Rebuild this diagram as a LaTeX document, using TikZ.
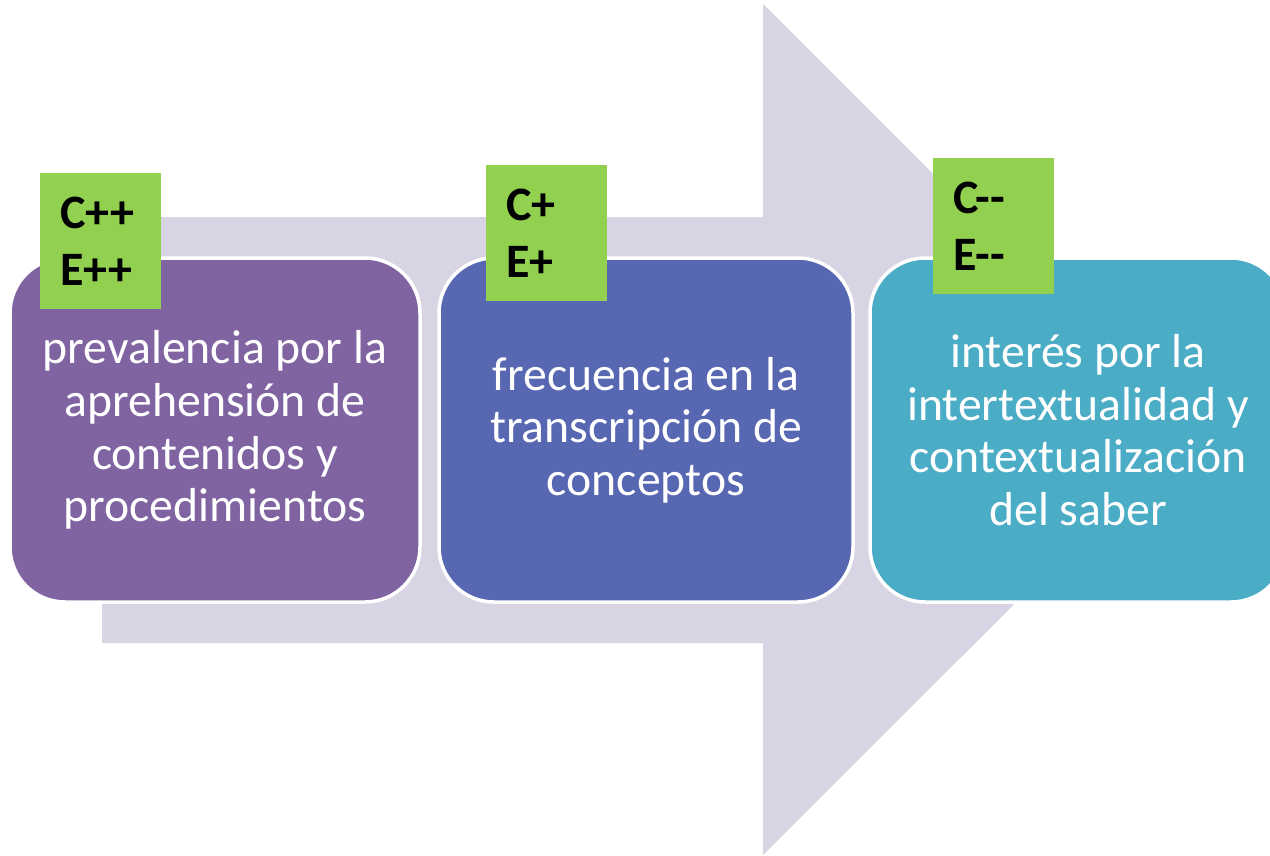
\documentclass[tikz,border=0pt]{standalone}
\usepackage{fontspec}
\setmainfont{Carlito}
\definecolor{arrowc}{RGB}{216,212,228}
\definecolor{purplec}{RGB}{128,100,162}
\definecolor{bluec}{RGB}{88,103,177}
\definecolor{tealc}{RGB}{75,172,198}
\definecolor{greenc}{RGB}{146,208,80}
\tikzset{
  mainbox/.style={draw=white, line width=3.5pt, rounded corners=55pt, minimum height=344pt,
    text=white, align=center, font=\fontsize{47.7}{52.6}\selectfont, inner sep=0pt},
  tag/.style={fill=greenc, anchor=north west, minimum height=136pt, text width=81pt,
    inner xsep=20pt, inner ysep=0pt, align=left, text=black,
    font=\fontsize{48}{57}\selectfont\bfseries}
}
\begin{document}
\begin{tikzpicture}[x=1pt,y=-1pt]
\useasboundingbox (0,0) rectangle (1270,855);
\clip (0,0) rectangle (1270,855);
\fill[arrowc] (102,217) -- (763,217) -- (763,4) -- (1189,429.5) -- (763,855) -- (763,643) -- (102,643) -- cycle;
\node[mainbox, fill=purplec, minimum width=410pt] (b1) at (215,430)
  {prevalencia por la\\aprehensión de\\contenidos y\\procedimientos};
\node[mainbox, fill=bluec, minimum width=414pt] (b2) at (646,430)
  {frecuencia en la\\transcripción de\\conceptos};
\node[mainbox, fill=tealc, minimum width=416pt] (b3) at (1078,430)
  {interés por la\\intertextualidad y\\contextualización\\del saber};
\node[tag] (t1) at (40,173) {C++\\E++};
\node[tag] (t2) at (486,165) {C+\\E+};
\node[tag] (t3) at (933,158) {C-{}-\\E-{}-};
\end{tikzpicture}
\end{document}
